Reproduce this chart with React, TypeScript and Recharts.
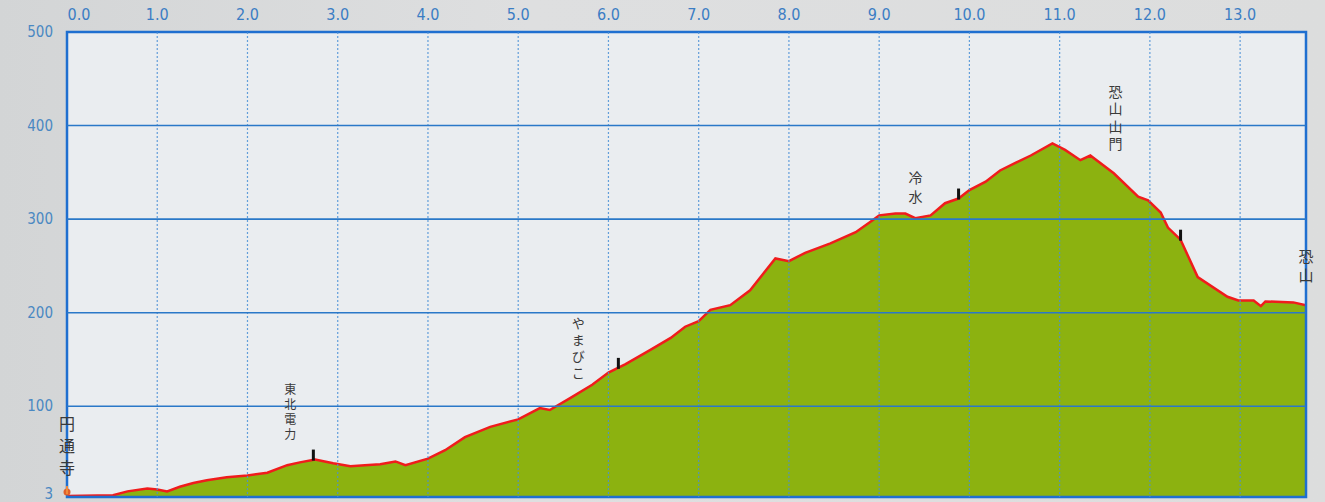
import React from 'react';
import {
  AreaChart,
  Area,
  XAxis,
  YAxis,
  CartesianGrid,
  ReferenceLine,
  ReferenceDot,
  ReferenceArea,
} from 'recharts';

// ---- data ----
const distanceKm = [
  0, 0.51, 0.67, 0.89, 1.0, 1.11, 1.25, 1.4, 1.55, 1.77, 2.0, 2.22, 2.44, 2.58, 2.75,
  2.95, 3.14, 3.3, 3.47, 3.64, 3.75, 4.0, 4.19, 4.41, 4.69, 5.0, 5.24, 5.35, 5.58,
  5.82, 6.0, 6.19, 6.46, 6.69, 6.85, 7.0, 7.13, 7.35, 7.57, 7.85, 8.0, 8.18, 8.46,
  8.74, 8.9, 9.0, 9.18, 9.29, 9.4, 9.57, 9.73, 9.88, 10.0, 10.18, 10.34, 10.51,
  10.68, 10.92, 11.06, 11.23, 11.34, 11.6, 11.87, 11.98, 12.12, 12.2, 12.34, 12.53,
  12.86, 12.98, 13.15, 13.23, 13.28, 13.59, 13.73,
];
const elevationM = [
  4, 5, 9, 12, 11, 9, 14, 18, 21, 24, 26, 29, 37, 40, 43,
  39, 36, 37, 38, 41, 37, 44, 53, 67, 78, 86, 98, 96, 109,
  123, 136, 145, 160, 173, 185, 191, 203, 208, 224, 258, 255, 264, 274,
  286, 297, 304, 306, 306, 301, 304, 317, 322, 331, 340, 352, 360,
  368, 381, 374, 363, 368, 349, 324, 320, 307, 291, 278, 238,
  217, 213, 213, 207, 212, 211, 208,
];
const xTicks = [0, 1, 2, 3, 4, 5, 6, 7, 8, 9, 10, 11, 12, 13];
const yTicks = [3, 100, 200, 300, 400, 500];
const gridY = [100, 200, 300, 400];
const gridX = [1, 2, 3, 4, 5, 6, 7, 8, 9, 10, 11, 12, 13];

const landmarkNames = ['円通寺', '東北電力', 'やまびこ', '冷水', '恐山山門', '恐山'];
const landmarkKm = [0, 2.73, 6.11, 9.88, 12.34, 13.73];
const landmarkElev = [4, 43, 141, 322, 278, 208];
const landmarkKind = ['start', 'tick', 'tick', 'tick', 'tick', 'none'];

// ---- layout / style (pixel offsets of labels relative to marker) ----
const labelStyle = [
  { dx: 0, dy: -73, step: 22, size: 16 },
  { dx: -23, dy: -71, step: 15, size: 12 },
  { dx: -40, dy: -45, step: 16.5, size: 13 },
  { dx: -43, dy: -22, step: 19, size: 14 },
  { dx: -65, dy: -149, step: 17.5, size: 14 },
  { dx: 0, dy: -50, step: 19, size: 15 },
];

const X_MAX = 13.73;
const data = distanceKm.map((km, i) => ({ km, elev: elevationM[i] }));

const XTick = (props: any) => {
  const { x, y, payload } = props;
  const shift = payload.value === 0 ? 12 : 0;
  return (
    <text
      x={x + shift}
      y={y}
      textAnchor="middle"
      fill="#3b7dc4"
      fontSize={16}
      fontFamily="'DejaVu Sans Condensed', 'DejaVu Sans', sans-serif"
    >
      {payload.value.toFixed(1)}
    </text>
  );
};

const YTick = (props: any) => {
  const { x, y, payload } = props;
  const lift = payload.value === 3 ? -3 : 0;
  return (
    <text
      x={x}
      y={y + lift}
      textAnchor="end"
      dominantBaseline="central"
      fill="#4a88c2"
      fontSize={15}
      fontFamily="'DejaVu Sans Condensed', 'DejaVu Sans', sans-serif"
    >
      {payload.value}
    </text>
  );
};

const makeLandmark = (i: number) => (props: any) => {
  const { cx, cy } = props;
  const st = labelStyle[i];
  const chars = Array.from(landmarkNames[i]);
  const kind = landmarkKind[i];
  return (
    <g>
      {kind === 'tick' && (
        <rect x={cx - 1.5} y={cy - 10} width={3} height={11} fill="#111" />
      )}
      {kind === 'start' && (
        <g>
          <circle cx={cx} cy={cy - 4} r={3.5} fill="#e0602a" />
          <rect x={cx - 1} y={cy - 10} width={2} height={8} fill="#f08a3a" />
        </g>
      )}
      {chars.map((c, k) => (
        <text
          key={k}
          x={cx + st.dx}
          y={cy + st.dy + k * st.step}
          textAnchor="middle"
          dominantBaseline="central"
          fontSize={st.size}
          fill="#3a3a3a"
          fontFamily="'Noto Sans CJK JP', sans-serif"
        >
          {c}
        </text>
      ))}
    </g>
  );
};

export default function App() {
  return (
    <div
      style={{
        position: 'absolute',
        left: 0,
        top: 0,
        width: 1325,
        height: 502,
        background: 'linear-gradient(90deg, #d3d5d6 0%, #dedfe0 40%, #dcdddd 100%)',
        overflow: 'hidden',
      }}
    >
      <AreaChart
        width={1325}
        height={502}
        data={data}
        margin={{ top: 10, right: 19, bottom: 5, left: 17 }}
      >
        <CartesianGrid fill="#eaedf0" horizontal={false} vertical={false} />
        <XAxis
          dataKey="km"
          type="number"
          orientation="top"
          domain={[0, X_MAX]}
          ticks={xTicks}
          allowDataOverflow
          height={22}
          axisLine={false}
          tickLine={false}
          tickSize={0}
          tickMargin={12}
          tick={<XTick />}
          interval={0}
        />
        <YAxis
          type="number"
          domain={[3, 500]}
          ticks={yTicks}
          allowDataOverflow
          width={50}
          axisLine={false}
          tickLine={false}
          tickSize={0}
          tickMargin={14}
          interval={0}
          tick={<YTick />}
        />
        <Area
          type="linear"
          dataKey="elev"
          stroke="#f01c1c"
          strokeWidth={2.5}
          fill="#8cb210"
          fillOpacity={1}
          baseValue={3}
          isAnimationActive={false}
          dot={false}
          activeDot={false}
        />
        {gridX.map((v) => (
          <ReferenceLine
            key={'x' + v}
            x={v}
            stroke="#4a8fd6"
            strokeWidth={1.2}
            strokeDasharray="2 2"
            strokeOpacity={0.85}
          />
        ))}
        {gridY.map((v) => (
          <ReferenceLine key={'y' + v} y={v} stroke="#2a78c8" strokeWidth={1.6} />
        ))}
        <ReferenceArea
          x1={0}
          x2={X_MAX}
          y1={3}
          y2={500}
          fill="none"
          fillOpacity={0}
          stroke="#1f6fd0"
          strokeWidth={2.5}
        />
        {landmarkNames.map((n, i) => (
          <ReferenceDot
            key={n}
            x={landmarkKm[i]}
            y={landmarkElev[i]}
            r={0}
            ifOverflow="visible"
            shape={makeLandmark(i)}
          />
        ))}
      </AreaChart>
    </div>
  );
}
